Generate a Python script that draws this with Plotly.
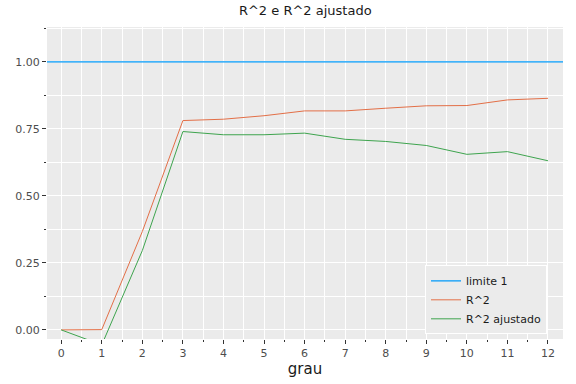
import plotly.graph_objects as go

grau = [0, 1, 2, 3, 4, 5, 6, 7, 8, 9, 10, 11, 12]
limite = 1.0
r2 = [0.0, 0.001, 0.367, 0.781, 0.786, 0.799, 0.817, 0.817, 0.827, 0.836, 0.837, 0.858, 0.864]
r2_aj = [0.0, -0.056, 0.296, 0.740, 0.728, 0.728, 0.734, 0.711, 0.703, 0.688, 0.655, 0.665, 0.631]
xticks = list(range(13))
yticks = [0.0, 0.25, 0.5, 0.75, 1.0]
ytick_text = ["0.00", "0.25", "0.50", "0.75", "1.00"]

FONT = "DejaVu Sans"
fig = go.Figure()
fig.add_hline(y=limite, line=dict(color="#009AFA", width=1.2), layer="above",
              showlegend=True, name="limite 1", legendrank=1)
fig.add_trace(go.Scatter(x=grau, y=r2, mode="lines", name="R^2", legendrank=2,
                         line=dict(color="#E36F47", width=1)))
fig.add_trace(go.Scatter(x=grau, y=r2_aj, mode="lines", name="R^2 ajustado", legendrank=3,
                         line=dict(color="#3EA44E", width=1)))

fig.update_layout(
    width=576, height=384,
    margin=dict(l=47, r=13, t=27, b=45, autoexpand=False),
    paper_bgcolor="white",
    plot_bgcolor="#EBEBEB",
    font=dict(family=FONT, color="#4D4D4D", size=11),
    title=dict(text="R^2 e R^2 ajustado", x=0.53, xanchor="center", y=0.985, yanchor="top",
               font=dict(size=13, color="#1A1A1A", family=FONT)),
    showlegend=True,
    legend=dict(x=0.969, y=0.015, xanchor="right", yanchor="bottom",
                bgcolor="#EBEBEB", bordercolor="white", borderwidth=1,
                font=dict(size=11, color="#1A1A1A", family=FONT),
                tracegroupgap=0, itemwidth=30),
)
fig.update_xaxes(
    automargin=False,
    range=[-0.35, 12.37], tickvals=xticks, ticktext=[str(v) for v in xticks],
    showgrid=True, gridcolor="white", gridwidth=1.2, zeroline=False,
    ticks="outside", ticklen=4, tickcolor="#333333", tickwidth=1,
    showline=False,
    minor=dict(dtick=0.5, tick0=0, showgrid=True, gridcolor="white", gridwidth=0.6,
               ticks="outside", ticklen=2, tickcolor="#333333"),
    title=dict(text="grau", font=dict(size=15, color="#1A1A1A", family=FONT), standoff=4),
)
fig.update_yaxes(
    automargin=False,
    range=[-0.034, 1.13], tickvals=yticks, ticktext=ytick_text,
    showgrid=True, gridcolor="white", gridwidth=1.2, zeroline=False,
    ticks="outside", ticklen=4, tickcolor="#333333", tickwidth=1,
    showline=False,
    minor=dict(dtick=0.125, tick0=0, showgrid=True, gridcolor="white", gridwidth=0.6,
               ticks="outside", ticklen=2, tickcolor="#333333"),
)
fig.write_html("out.html", config={"displayModeBar": False},
               post_script="document.body.style.margin='0';document.body.style.overflow='hidden';")
